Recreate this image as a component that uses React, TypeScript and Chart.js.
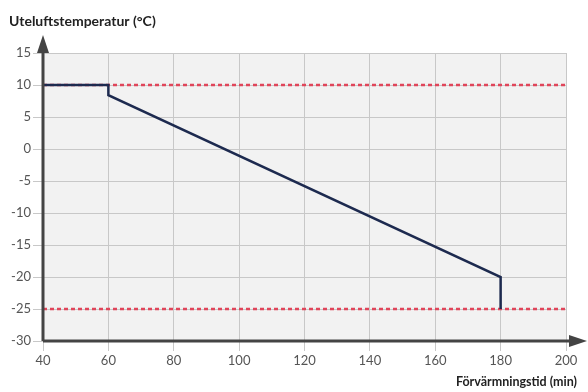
import React, { useEffect, useRef } from "react";
import { Chart, registerables } from "chart.js";
Chart.register(...registerables);

const lineX = [40, 60, 60, 180, 180];
const lineY = [10, 10, 8.4, -20, -25];
const limitUpper = 10;
const limitLower = -25;
const xRange = [40, 200];
const yRange = [-30, 15];
const yTitle = "Uteluftstemperatur (°C)";
const xTitle = "Förvärmningstid (min)";
const FONT = "Lato, 'DejaVu Sans', sans-serif";

export default function App() {
  const ref = useRef<HTMLCanvasElement | null>(null);
  useEffect(() => {
    document.body.style.margin = "0";
    const decor = {
      id: "decor",
      beforeDraw(chart: any) {
        const { ctx, chartArea: a } = chart;
        ctx.save();
        ctx.fillStyle = "#f2f2f2";
        ctx.fillRect(a.left, a.top, a.right - a.left, a.bottom - a.top);
        ctx.restore();
      },
      afterDraw(chart: any) {
        const { ctx, chartArea: a } = chart;
        ctx.save();
        ctx.strokeStyle = "#444";
        ctx.fillStyle = "#444";
        ctx.lineWidth = 3;
        ctx.beginPath();
        ctx.moveTo(a.left, a.bottom);
        ctx.lineTo(a.left, a.top - 10);
        ctx.moveTo(a.left, a.bottom);
        ctx.lineTo(a.right + 10, a.bottom);
        ctx.stroke();
        ctx.beginPath();
        ctx.moveTo(a.left, a.top - 18);
        ctx.lineTo(a.left - 6, a.top);
        ctx.lineTo(a.left + 6, a.top);
        ctx.closePath();
        ctx.fill();
        ctx.beginPath();
        ctx.moveTo(a.right + 21, a.bottom);
        ctx.lineTo(a.right + 3, a.bottom - 6);
        ctx.lineTo(a.right + 3, a.bottom + 6);
        ctx.closePath();
        ctx.fill();
        ctx.fillStyle = "#222";
        ctx.textBaseline = "middle";
        ctx.textAlign = "left";
        ctx.font = "bold 14px " + FONT;
        ctx.fillText(yTitle, 9, 21);
        ctx.textAlign = "right";
        ctx.font = "bold 12.5px " + FONT;
        ctx.fillText(xTitle, 577, 382);
        ctx.restore();
      },
    };
    const chart = new Chart(ref.current as HTMLCanvasElement, {
      type: "scatter",
      data: {
        datasets: [
          {
            data: lineX.map((x, i) => ({ x, y: lineY[i] })),
            showLine: true,
            borderColor: "#1d2a4f",
            borderWidth: 2.5,
            pointRadius: 0,
            order: 0,
          },
          {
            data: [{ x: xRange[0], y: limitUpper }, { x: xRange[1], y: limitUpper }],
            showLine: true,
            borderColor: "#e0455a",
            borderWidth: 2.5,
            borderDash: [4, 3],
            pointRadius: 0,
            order: 1,
          },
          {
            data: [{ x: xRange[0], y: limitLower }, { x: xRange[1], y: limitLower }],
            showLine: true,
            borderColor: "#e0455a",
            borderWidth: 2.5,
            borderDash: [4, 3],
            pointRadius: 0,
            order: 1,
          },
        ],
      },
      options: {
        responsive: false,
        animation: false,
        layout: { padding: { top: 53, right: 22, left: 0, bottom: 0 } },
        plugins: { legend: { display: false }, tooltip: { enabled: false } },
        scales: {
          x: {
            type: "linear",
            min: xRange[0],
            max: xRange[1],
            border: { display: false },
            grid: { color: "#c8c8c8", lineWidth: 1, tickLength: 10 },
            ticks: { stepSize: 20, color: "#555", font: { size: 13, family: FONT }, padding: 2 },
            afterFit(s: any) { s.height = 51; },
          },
          y: {
            type: "linear",
            min: yRange[0],
            max: yRange[1],
            border: { display: false },
            grid: { color: "#c8c8c8", lineWidth: 1, tickLength: 10 },
            ticks: { stepSize: 5, color: "#555", font: { size: 13, family: FONT }, padding: 2 },
            afterFit(s: any) { s.width = 43; },
          },
        },
      },
      plugins: [decor],
    } as any);
    return () => chart.destroy();
  }, []);
  return (
    <div style={{ width: 588, height: 392 }}>
      <canvas ref={ref} width={588} height={392} />
    </div>
  );
}
